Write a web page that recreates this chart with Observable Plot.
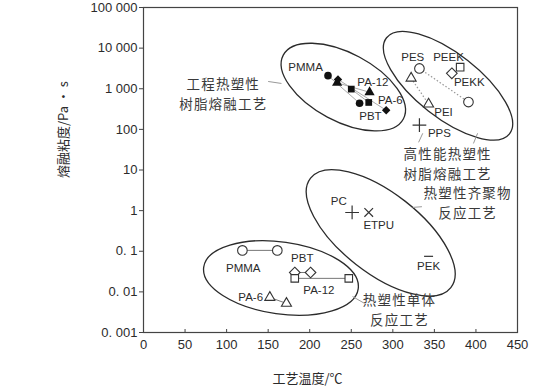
<!DOCTYPE html>
<html><head><meta charset="utf-8">
<script src="https://cdn.jsdelivr.net/npm/d3@7"></script>
<script src="https://cdn.jsdelivr.net/npm/@observablehq/plot@0.6"></script>
<style>
html,body{margin:0;padding:0;background:#fff;}
svg{display:block;}
</style></head><body><div id="chart"></div>
<script>
// ---- axis ticks ----
const xTicks = [0, 50, 100, 150, 200, 250, 300, 350, 400, 450];
const yTicks = [0.001, 0.01, 0.1, 1, 10, 100, 1000, 10000, 100000];
const yTickLabels = ["0. 001", "0. 01", "0. 1", "1", "10", "100", "1 000", "10 000", "100 000"];
const xTitle = "工艺温度/℃";
const yTitle = "熔融粘度/Pa · s";

// ---- engineering thermoplastics, melt processing (filled markers) ----
const engNames = ["PMMA", "PA-6", "PA-12", "PBT"];
const engTempLow = [222, 233, 250, 234];
const engViscLow = [2100, 1400, 980, 1700];
const engTempHigh = [260, 272, 271, 292];
const engViscHigh = [440, 820, 460, 295];

// ---- thermoplastic monomers, reactive processing (open markers) ----
const monoNames = ["PMMA", "PBT", "PA-12", "PA-6"];
const monoTempLow = [119, 182, 182, 152];
const monoViscLow = [0.105, 0.030, 0.0215, 0.0073];
const monoTempHigh = [161, 201, 247, 172];
const monoViscHigh = [0.105, 0.030, 0.0215, 0.0052];

// ---- high-performance thermoplastics (open markers) ----
const hpNames = ["PES", "PEI"];
const hpTempLow = [332, 322];
const hpViscLow = [3160, 1820];
const hpTempHigh = [391, 343];
const hpViscHigh = [470, 420];
const hpSingleNames = ["PEEK", "PEKK"];
const hpSingleTemp = [381, 371];
const hpSingleVisc = [3400, 2400];
const ppsTemp = [332];
const ppsVisc = [127];

// ---- oligomers ----
const oligoNames = ["PC", "ETPU", "PEK"];
const oligoTemp = [251, 271, 343];
const oligoVisc = [0.9, 0.9, 0.075];

// ---- point labels ----
const labelText = ["PMMA", "PA-12", "PA-6", "PBT", "PES", "PEEK", "PEKK", "PEI", "PPS", "PC", "ETPU", "PEK", "PMMA", "PBT", "PA-12", "PA-6"];
const labelTemp = [195, 276, 297, 273, 324, 367, 392, 361, 356, 235, 283, 343, 120, 191, 211, 129];
const labelVisc = [3400, 1450, 515, 210, 5900, 5900, 1450, 265, 80, 1.69, 0.43, 0.042, 0.038, 0.066, 0.0108, 0.0073];

// ---- group annotations (two lines each) ----
const groupLine1 = ["工程热塑性", "高性能热塑性", "热塑性齐聚物", "热塑性单体"];
const groupLine2 = ["树脂熔融工艺", "树脂熔融工艺", "反应工艺", "反应工艺"];
const groupTemp = [96, 366, 390, 308];
const groupVisc = [720, 13.8, 1.5, 0.0035];

// ---- group ellipses (centre in data units) ----
const ellCenterTemp = [241, 367, 286, 166];
const ellCenterVisc = [1070, 1150, 0.275, 0.0214];
const ellRadiusMajor = [68, 78, 89, 78];
const ellRadiusMinor = [34, 32, 40, 36];
const ellAngle = [28, 38, 38, 8];

// ---- leader lines ----
const leadT1 = [150, 336, 402, 324, 251.5];
const leadV1 = [1510, 80, 80, 1.2, 0.0077];
const leadT2 = [166, 331, 397, 335, 266];
const leadV2 = [1350, 48, 45, 1.25, 0.0052];

// ---- build tables ----
const pairs = (names, t1, v1, t2, v2) => names.map((n, i) => ({name: n, t1: t1[i], v1: v1[i], t2: t2[i], v2: v2[i]}));
const eng = pairs(engNames, engTempLow, engViscLow, engTempHigh, engViscHigh);
const mono = pairs(monoNames, monoTempLow, monoViscLow, monoTempHigh, monoViscHigh);
const hp = pairs(hpNames, hpTempLow, hpViscLow, hpTempHigh, hpViscHigh);
const pts = (arr) => arr.flatMap(d => [{name: d.name, t: d.t1, v: d.v1}, {name: d.name, t: d.t2, v: d.v2}]);
const engPts = pts(eng), monoPts = pts(mono), hpPts = pts(hp);
const hpSingle = hpSingleNames.map((n, i) => ({name: n, t: hpSingleTemp[i], v: hpSingleVisc[i]}));
const oligo = oligoNames.map((n, i) => ({name: n, t: oligoTemp[i], v: oligoVisc[i]}));
const pps = ppsTemp.map((t, i) => ({t, v: ppsVisc[i]}));
const labels = labelText.map((s, i) => ({s, t: labelTemp[i], v: labelVisc[i]}));
const groups = groupLine1.map((s, i) => ({a: s, b: groupLine2[i], t: groupTemp[i], v: groupVisc[i]}));
const leads = leadT1.map((t, i) => ({t1: t, v1: leadV1[i], t2: leadT2[i], v2: leadV2[i]}));
const yLabelMap = new Map(yTicks.map((d, i) => [d, yTickLabels[i]]));

const symbolOf = {PMMA: "circle", PES: "circle", "PA-6": "triangle", PEI: "triangle", "PA-12": "square", PEEK: "square", PBT: "diamond2", PEKK: "diamond2"};
const openSymbolOf = {PMMA: "circle", PES: "circle", "PA-6": "triangle2", PEI: "triangle2", "PA-12": "square2", PEEK: "square2", PBT: "diamond2", PEKK: "diamond2"};
// horizontal dash marker symbol
const dashSymbol = {draw(ctx, size) { const r = Math.sqrt(size / Math.PI); ctx.moveTo(-r, 0); ctx.lineTo(r, 0); }};

function ellipses(index, scales) {
  const g = d3.create("svg:g").attr("fill", "none").attr("stroke", "#2b2b2b").attr("stroke-width", 1.3);
  ellCenterTemp.forEach((t, i) => {
    const cx = scales.x(t), cy = scales.y(ellCenterVisc[i]);
    g.append("ellipse").attr("rx", ellRadiusMajor[i]).attr("ry", ellRadiusMinor[i])
      .attr("transform", `translate(${cx},${cy}) rotate(${ellAngle[i]})`);
  });
  return g.node();
}

const font = "'Liberation Sans', 'Noto Sans CJK SC', sans-serif";
const cjk = "'Noto Sans CJK SC', sans-serif";
const ink = "#2b2b2b";
const groupInk = "#3a3a3a";

const chart = Plot.plot({
  width: 555,
  height: 391,
  marginLeft: 143,
  marginRight: 38,
  marginTop: 7,
  marginBottom: 59,
  x: {domain: [0, 450]},
  y: {type: "log", domain: [0.001, 100000]},
  style: {fontFamily: font, fontSize: "13px", color: ink, background: "#fff"},
  marks: [
    Plot.frame({stroke: "#444", strokeWidth: 1.2}),
    Plot.axisY({ticks: yTicks, tickFormat: d => yLabelMap.get(d), tickSize: 4, tickPadding: 2, label: null, fontSize: 13, stroke: "#444"}),
    Plot.axisX({ticks: xTicks, tickFormat: d => String(d), tickSize: -3, tickPadding: 10, label: null, fontSize: 13, stroke: "#444"}),
    Plot.text([xTitle], {frameAnchor: "bottom", dx: -23, dy: 50, fontFamily: cjk, fontSize: 13, fill: ink}),
    Plot.text([yTitle], {frameAnchor: "left", dx: -80, dy: 8, rotate: -90, fontFamily: cjk, fontSize: 13, fill: ink}),
    ellipses,
    // connecting lines
    Plot.link(eng, {x1: "t1", y1: "v1", x2: "t2", y2: "v2", stroke: "#aaa", strokeWidth: 1}),
    Plot.link(mono, {x1: "t1", y1: "v1", x2: "t2", y2: "v2", stroke: "#777", strokeWidth: 1}),
    Plot.link(hp, {x1: "t1", y1: "v1", x2: "t2", y2: "v2", stroke: "#999", strokeWidth: 1.2, strokeDasharray: "1.5,2"}),
    Plot.link(leads, {x1: "t1", y1: "v1", x2: "t2", y2: "v2", stroke: "#999", strokeWidth: 1}),
    // filled markers (engineering)
    Plot.dot(engPts, {x: "t", y: "v", symbol: d => symbolOf[d.name], fill: "#111", r: 3.8}),
    // open markers
    Plot.dot(monoPts, {x: "t", y: "v", symbol: d => openSymbolOf[d.name], fill: "#fff", stroke: "#333", strokeWidth: 1.1, r: 4.8}),
    Plot.dot(hpPts, {x: "t", y: "v", symbol: d => openSymbolOf[d.name], fill: "#fff", stroke: "#333", strokeWidth: 1.1, r: 4.8}),
    Plot.dot(hpSingle, {x: "t", y: "v", symbol: d => openSymbolOf[d.name], fill: "#fff", stroke: "#333", strokeWidth: 1.1, r: 4.8}),
    Plot.dot(pps, {x: "t", y: "v", symbol: "plus", stroke: "#333", strokeWidth: 1.2, r: 4.5}),
    Plot.dot(oligo.filter(d => d.name === "PC"), {x: "t", y: "v", symbol: "plus", stroke: "#333", strokeWidth: 1.2, r: 4.5}),
    Plot.dot(oligo.filter(d => d.name === "ETPU"), {x: "t", y: "v", symbol: "times", stroke: "#333", strokeWidth: 1.2, r: 4}),
    Plot.dot(oligo.filter(d => d.name === "PEK"), {x: "t", y: "v", symbol: dashSymbol, stroke: "#333", strokeWidth: 1.2, r: 4.5}),
    // labels
    Plot.text(labels, {x: "t", y: "v", text: "s", fontSize: 11.5, fill: ink}),
    Plot.text(groups, {x: "t", y: "v", text: "a", dy: -10, fontFamily: cjk, fontSize: 13.5, fill: groupInk}),
    Plot.text(groups, {x: "t", y: "v", text: "b", dy: 10, fontFamily: cjk, fontSize: 13.5, fill: groupInk})
  ]
});
chart.querySelectorAll(`g[fill="${groupInk}"]`).forEach(g => g.setAttribute("letter-spacing", "1.2"));
document.getElementById("chart").append(chart);
</script>
</body></html>
